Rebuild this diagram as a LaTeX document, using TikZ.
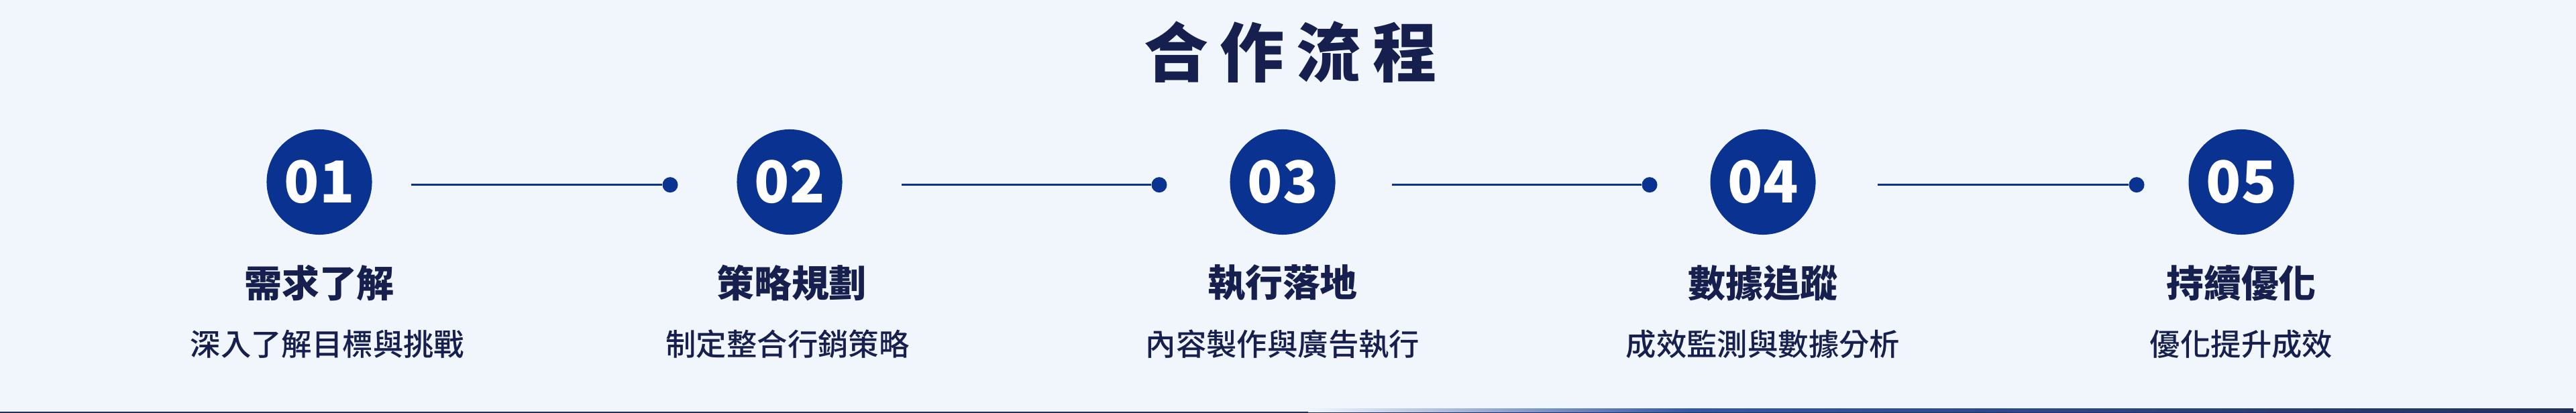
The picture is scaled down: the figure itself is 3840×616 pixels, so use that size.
\documentclass[tikz,border=0pt]{standalone}
\usepackage{fontspec}
\usepackage{xcolor}
\newfontfamily\cjk{Noto Sans CJK TC}
\newfontfamily\cjkmid{Noto Sans CJK TC Medium}
\definecolor{pagebg}{HTML}{F1F6FD}
\definecolor{stepblue}{HTML}{0A3290}
\definecolor{inknavy}{HTML}{161F4D}
\definecolor{barnavy}{HTML}{22305E}
\definecolor{barblue}{HTML}{3457A6}

\begin{document}
\begin{tikzpicture}[x=0.01cm,y=0.01cm,
        numdisc/.style={shape=circle,fill=stepblue,text=white,minimum size=1.57cm,inner sep=0pt,font=\cjk\bfseries\fontsize{24.5}{24.5}\selectfont},
        joint/.style={shape=circle,fill=stepblue,minimum size=0.23cm,inner sep=0pt},
        link/.style={stepblue,line width=0.85pt},
        steptitle/.style={text=inknavy,inner sep=0pt,font=\cjk\bfseries\fontsize{15.9}{15.9}\selectfont},
        stepnote/.style={text=inknavy,inner sep=0pt,font=\cjkmid\fontsize{12.9}{12.9}\selectfont}]
    		\fill[pagebg] (0,0) rectangle (3840,616);
    		\fill[barnavy] (0,0) rectangle (3840,2);
    		\shade[left color=pagebg,right color=barblue] (1950,1) rectangle (2520,6);
    		\shade[left color=barblue,right color=barnavy] (2520,1) rectangle (3836,6);
    		
    		\node[text=inknavy,font=\cjk\bfseries\fontsize{27.3}{27.3}\selectfont] (title) at (1924,538) {合\hspace{5.1pt}作\hspace{5.1pt}流\hspace{5.1pt}程};
    		
    		\node[numdisc] (s1) at (476,344.5) {01};
    		\node[numdisc] (s2) at (1177,344.5) {02};
    		\node[numdisc] (s3) at (1912,344.5) {03};
    		\node[numdisc] (s4) at (2628,344.5) {04};
    		\node[numdisc] (s5) at (3341,344.5) {05};
    		
    		\node[steptitle] (t1) at (476,194) {需求了解};
    		\node[steptitle] (t2) at (1180,194) {策略規劃};
    		\node[steptitle] (t3) at (1912,194) {執行落地};
    		\node[steptitle] (t4) at (2628,194) {數據追蹤};
    		\node[steptitle] (t5) at (3341,194) {持續優化};
    		
    		\node[stepnote] (n1) at (488,103) {深入了解目標與挑戰};
    		\node[stepnote] (n2) at (1174,103) {制定整合行銷策略};
    		\node[stepnote] (n3) at (1912,103) {內容製作與廣告執行};
    		\node[stepnote] (n4) at (2628,103) {成效監測與數據分析};
    		\node[stepnote] (n5) at (3341,103) {優化提升成效};
    		
    		\node[joint] (d1) at (999,340.3){};
    		\node[joint] (d2) at (1728,340.3){};
    		\node[joint] (d3) at (2459,340.3){};
    		\node[joint] (d4) at (3185,340.3){};
    		\coordinate (l1) at (613,340.3);
    		\coordinate (l2) at (1344,340.3);
    		\coordinate (l3) at (2075,340.3);
    		\coordinate (l4) at (2799,340.3);
    		
    		\draw[link] (l1) -- (d1);
    		\draw[link] (l2) -- (d2);
    		\draw[link] (l3) -- (d3);
    		\draw[link] (l4) -- (d4);
    	\end{tikzpicture}
\end{document}
